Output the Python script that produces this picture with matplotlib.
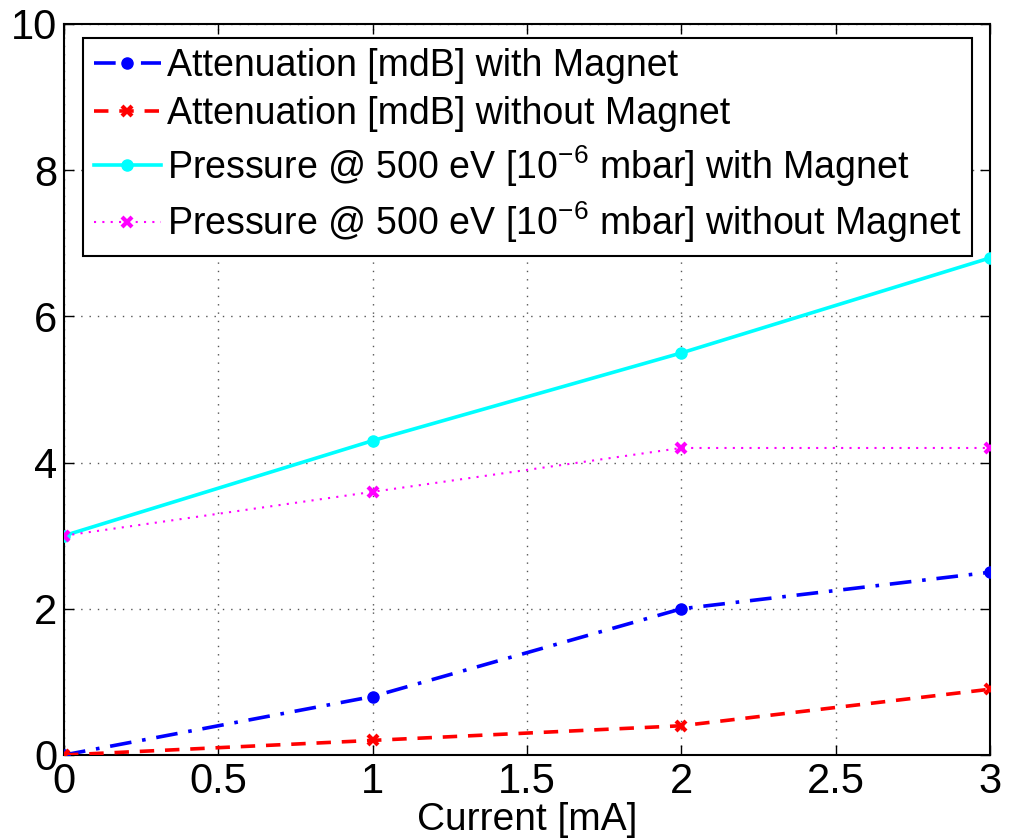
import matplotlib
matplotlib.use("Agg")
import matplotlib.pyplot as plt

plt.rcParams["font.family"] = ["Liberation Sans", "DejaVu Sans"]
plt.rcParams["mathtext.fontset"] = "custom"
plt.rcParams["mathtext.rm"] = "Liberation Sans"

current = [0, 1, 2, 3]
att_magnet = [0, 0.8, 2.0, 2.5]
att_nomagnet = [0, 0.2, 0.4, 0.9]
pres_magnet = [3.0, 4.3, 5.5, 6.8]
pres_nomagnet = [3.0, 3.6, 4.2, 4.2]

labels = [
    "Attenuation [mdB] with Magnet",
    "Attenuation [mdB] without Magnet",
    r"Pressure @ 500 eV [10$^{-6}$ mbar] with Magnet",
    r"Pressure @ 500 eV [10$^{-6}$ mbar] without Magnet",
]
xticks = [0, 0.5, 1, 1.5, 2, 2.5, 3]
yticks = [0, 2, 4, 6, 8, 10]

fig = plt.figure(figsize=(10.14, 8.39), dpi=100)
ax = fig.add_axes([64 / 1014, 1 - 755 / 839, 926 / 1014, 731 / 839])

ax.plot(current, att_magnet, color="blue", ls=(0, (6, 3, 1, 3)), lw=2.6,
        marker="o", ms=8, label=labels[0], zorder=3)
ax.plot(current, att_nomagnet, color="red", ls=(0, (4, 3)), lw=2.6, marker="x",
        ms=7, mew=3, label=labels[1], zorder=3)
ax.plot(current, pres_magnet, color="cyan", ls="-", lw=2.6, marker="o", ms=8,
        label=labels[2], zorder=3)
ax.plot(current, pres_nomagnet, color="magenta", ls=(0, (1, 3)), lw=1.5,
        marker="x", ms=7, mew=3, label=labels[3], zorder=3)

ax.set_xlim(0, 3)
ax.set_ylim(0, 10)
ax.set_xticks(xticks)
ax.set_xticklabels([f"{t:g}" for t in xticks])
ax.set_yticks(yticks)
ax.grid(True, ls=(0, (1, 5)), color="#555555", lw=1)
ax.tick_params(direction="in", length=7, labelsize=30, top=True, right=True,
               width=1, pad=5)
for s in ax.spines.values():
    s.set_linewidth(1.5)
ax.set_xlabel("Current [mA]", fontsize=28, labelpad=0)

leg = ax.legend(loc="upper left", bbox_to_anchor=(19 / 926, 1 - 14 / 731),
                fontsize=27, frameon=True, fancybox=False, edgecolor="black",
                framealpha=1, borderpad=0.28, labelspacing=0.3,
                handlelength=1.8, handletextpad=0.15, borderaxespad=0)
leg.get_frame().set_linewidth(1.5)

fig.savefig("out.png", dpi=100, facecolor="white")
